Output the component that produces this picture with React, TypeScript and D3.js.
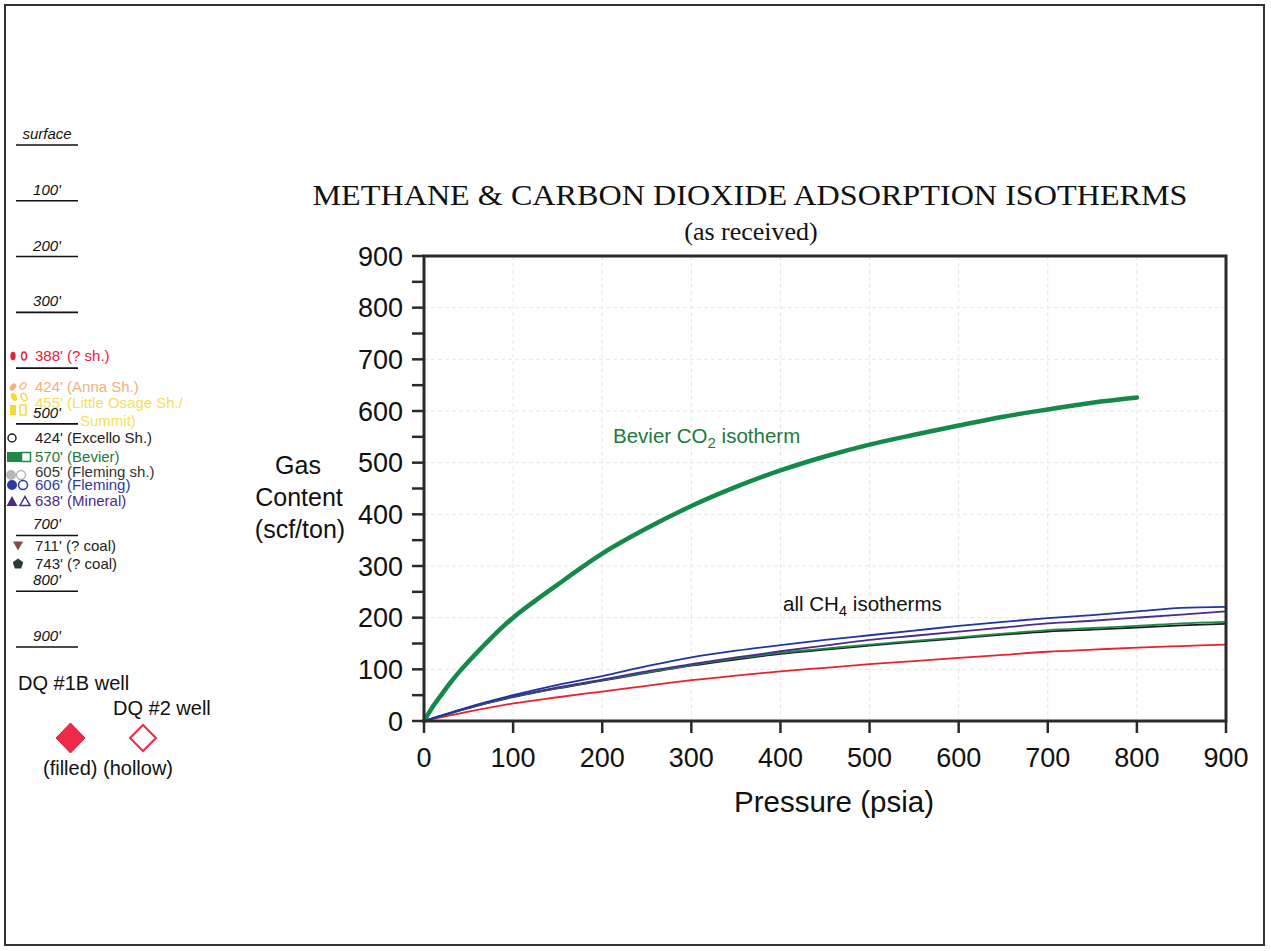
import React from "react";
import * as d3 from "d3";

// ---------- data ----------
const co2Pressure = [0, 10, 20, 30, 40, 50, 75, 100, 125, 150, 175, 200, 250, 300, 350, 400, 450, 500, 550, 600, 650, 700, 750, 800];
const bevierCO2 = [0, 28, 52, 75, 96, 115, 160, 200, 233, 264, 295, 324, 373, 416, 453, 485, 512, 535, 554, 572, 589, 603, 616, 626];

const ch4Pressure = [0, 50, 100, 150, 200, 250, 300, 350, 400, 450, 500, 550, 600, 650, 700, 750, 800, 850, 900];
const flemingCH4 = [0, 27, 50, 70, 87, 106, 123, 136, 147, 157, 166, 175, 184, 192, 199, 205, 212, 219, 221];
const mineralCH4 = [0, 26, 48, 65, 80, 96, 110, 123, 135, 146, 157, 165, 173, 181, 189, 194, 200, 206, 212];
const bevierCH4 = [0, 25, 47, 64, 79, 94, 108, 121, 132, 140, 148, 155, 162, 169, 176, 180, 184, 189, 192];
const excelloCH4 = [0, 25, 46, 63, 78, 93, 107, 119, 130, 138, 146, 153, 160, 167, 173, 177, 181, 185, 188];
const shale388CH4 = [0, 18, 34, 46, 57, 68, 79, 88, 96, 103, 110, 116, 122, 128, 134, 138, 142, 145, 148];

const xTicks = [0, 100, 200, 300, 400, 500, 600, 700, 800, 900];
const yTicks = [0, 100, 200, 300, 400, 500, 600, 700, 800, 900];
const yMinorTicks = [50, 150, 250, 350, 450, 550, 650, 750, 850];

const depthValues = [0, 100, 200, 300, 400, 500, 700, 800, 900];
const depthLabels = ["surface", "100'", "200'", "300'", "", "500'", "700'", "800'", "900'"];

const legendLabels = [
  "388' (? sh.)",
  "424' (Anna Sh.)",
  "455' (Little Osage Sh./",
  "424' (Excello Sh.)",
  "570' (Bevier)",
  "605' (Fleming sh.)",
  "606' (Fleming)",
  "638' (Mineral)",
  "711' (? coal)",
  "743' (? coal)",
];

const SANS = "'Liberation Sans', Arial, Helvetica, sans-serif";
const SERIF = "'Liberation Serif', 'Times New Roman', serif";

export default function App() {
  const x = d3.scaleLinear().domain([0, 900]).range([424, 1226]);
  const y = d3.scaleLinear().domain([0, 900]).range([721, 256]);
  const depth = d3.scaleLinear().domain([0, 900]).range([145, 647]);

  const line = d3
    .line<[number, number]>()
    .x((d) => x(d[0]))
    .y((d) => y(d[1]))
    .curve(d3.curveMonotoneX);

  const zip = (px: number[], vy: number[]) => px.map((p, i) => [p, vy[i]] as [number, number]);

  const ch4Series = [
    { v: shale388CH4, c: "#e8222e" },
    { v: excelloCH4, c: "#1c1c1c" },
    { v: bevierCH4, c: "#1e8a46" },
    { v: mineralCH4, c: "#4a2c8c" },
    { v: flemingCH4, c: "#2134a4" },
  ];

  // layout for left legend rows (y centres)
  const rowY = [356, 387, 403, 438, 457, 472, 485, 501, 546, 564];
  const rowColor = ["#e8203c", "#f5b07e", "#f5e05a", "#222", "#1b7a3a", "#333", "#2b3aa0", "#4a2a8a", "#222", "#222"];

  const tri = (cx: number, cy: number, s: number, down = false) => {
    const h = s * 0.9;
    return down
      ? `M${cx - s / 2},${cy - h / 2}L${cx + s / 2},${cy - h / 2}L${cx},${cy + h / 2}Z`
      : `M${cx - s / 2},${cy + h / 2}L${cx + s / 2},${cy + h / 2}L${cx},${cy - h / 2}Z`;
  };
  const pent = (cx: number, cy: number, r: number) =>
    d3.range(5).map((i) => {
      const a = -Math.PI / 2 + (i * 2 * Math.PI) / 5;
      return `${cx + r * Math.cos(a)},${cy + r * Math.sin(a)}`;
    }).join(" ");

  return (
    <svg
      width={1271}
      height={951}
      style={{ position: "absolute", left: 0, top: 0, background: "#fff" }}
    >
      <rect x={0} y={0} width={1271} height={951} fill="#fff" />
      {/* page frame */}
      <rect x={5} y={5} width={1259} height={940} fill="none" stroke="#333" strokeWidth={2} />

      {/* ---------- left depth panel ---------- */}
      {depthValues.map((d, i) => (
        <g key={"dep" + i}>
          <line x1={16} x2={78} y1={depth(d)} y2={depth(d)} stroke="#111" strokeWidth={1.6} />
          {depthLabels[i] && (
            <text x={47} y={depth(d) - 6} textAnchor="middle" fontFamily={SANS} fontStyle="italic" fontSize={15} fill="#111">
              {depthLabels[i]}
            </text>
          )}
        </g>
      ))}

      {legendLabels.map((t, i) => (
        <text key={"lg" + i} x={35} y={rowY[i]} dy="0.35em" fontFamily={SANS} fontSize={15} fill={rowColor[i]}>
          {t}
        </text>
      ))}
      <text x={80} y={421} dy="0.35em" fontFamily={SANS} fontSize={15} fill="#f5e05a">Summit)</text>

      {/* legend symbols */}
      <ellipse cx={13} cy={356} rx={2.6} ry={4.2} fill="#e8203c" />
      <ellipse cx={24} cy={356} rx={2.4} ry={4} fill="none" stroke="#e8203c" strokeWidth={1.5} />
      <ellipse cx={13} cy={387} rx={2.6} ry={4} fill="#f5b07e" transform="rotate(40 13 387)" />
      <ellipse cx={23} cy={386} rx={2.4} ry={3.8} fill="none" stroke="#f5b07e" strokeWidth={1.2} transform="rotate(40 23 386)" />
      <ellipse cx={14} cy={397} rx={2.8} ry={4.2} fill="#f5d832" transform="rotate(-30 14 397)" />
      <ellipse cx={24} cy={397} rx={2.6} ry={4} fill="none" stroke="#f5d832" strokeWidth={1.3} transform="rotate(-30 24 397)" />
      <rect x={10} y={405} width={6} height={10} fill="#f5d832" />
      <rect x={20} y={405} width={6} height={10} fill="none" stroke="#f5d832" strokeWidth={1.3} />
      <circle cx={12} cy={438} r={4} fill="none" stroke="#222" strokeWidth={1.5} />
      <rect x={7} y={452} width={14} height={10} fill="#1e8a46" />
      <rect x={21.5} y={452.5} width={9} height={9} fill="none" stroke="#1e8a46" strokeWidth={1.5} />
      <circle cx={11} cy={475} r={5} fill="#9a9a9a" opacity={0.7} />
      <circle cx={21} cy={475} r={4.5} fill="none" stroke="#9a9a9a" strokeWidth={1.5} opacity={0.7} />
      <circle cx={12} cy={485} r={5} fill="#2b3aa0" />
      <circle cx={23} cy={485} r={4.5} fill="none" stroke="#2b3aa0" strokeWidth={1.5} />
      <path d={tri(12, 501, 11)} fill="#4a2a8a" />
      <path d={tri(25, 501, 10)} fill="none" stroke="#4a2a8a" strokeWidth={1.5} />
      <path d={tri(18, 546, 10, true)} fill="#7a5045" />
      <polygon points={pent(18, 564, 5.5)} fill="#2f3a36" />

      {/* well legend */}
      <text x={18} y={690} fontFamily={SANS} fontSize={20} fill="#111">DQ #1B well</text>
      <text x={113} y={715} fontFamily={SANS} fontSize={20} fill="#111">DQ #2 well</text>
      <path d="M70.5,723 L85,738 L70.5,753 L56,738 Z" fill="#ef2a48" stroke="#d01e3a" strokeWidth={1} />
      <path d="M143,725 L156,738 L143,751 L130,738 Z" fill="#fff" stroke="#ef2a48" strokeWidth={2} />
      <text x={43} y={775} fontFamily={SANS} fontSize={20} fill="#111">(filled) (hollow)</text>

      {/* ---------- chart ---------- */}
      <text x={750} y={205} textAnchor="middle" fontFamily={SERIF} fontSize={29} fill="#111" textLength={875} lengthAdjust="spacingAndGlyphs">
        METHANE &amp; CARBON DIOXIDE ADSORPTION ISOTHERMS
      </text>
      <text x={751} y={240} textAnchor="middle" fontFamily={SERIF} fontSize={26} fill="#111">
        (as received)
      </text>

      {/* grid */}
      {xTicks.slice(1, -1).map((t) => (
        <line key={"gx" + t} x1={x(t)} x2={x(t)} y1={y(900)} y2={y(0)} stroke="#e6e6e6" strokeWidth={1} strokeDasharray="4,3" />
      ))}
      {yTicks.slice(1, -1).map((t) => (
        <line key={"gy" + t} x1={x(0)} x2={x(900)} y1={y(t)} y2={y(t)} stroke="#e6e6e6" strokeWidth={1} strokeDasharray="4,3" />
      ))}

      {/* CH4 curves */}
      {ch4Series.map((s, i) => (
        <path key={"ch4" + i} d={line(zip(ch4Pressure, s.v)) || ""} fill="none" stroke={s.c} strokeWidth={1.8} />
      ))}
      {/* CO2 curve */}
      <path d={line(zip(co2Pressure, bevierCO2)) || ""} fill="none" stroke="#15894a" strokeWidth={4.5} strokeLinecap="round" />

      {/* frame */}
      <rect x={x(0)} y={y(900)} width={x(900) - x(0)} height={y(0) - y(900)} fill="none" stroke="#2a2a2a" strokeWidth={3} />

      {/* y ticks */}
      {yTicks.map((t) => (
        <g key={"yt" + t}>
          <line x1={x(0) - 12} x2={x(0)} y1={y(t)} y2={y(t)} stroke="#2a2a2a" strokeWidth={2.5} />
          <text x={403} y={y(t)} dy="0.36em" textAnchor="end" fontFamily={SANS} fontSize={27} fill="#111">{t}</text>
        </g>
      ))}
      {yMinorTicks.map((t) => (
        <line key={"ym" + t} x1={x(0) - 12} x2={x(0)} y1={y(t)} y2={y(t)} stroke="#2a2a2a" strokeWidth={2.5} />
      ))}

      {/* x ticks */}
      {xTicks.map((t) => (
        <g key={"xt" + t}>
          <line x1={x(t)} x2={x(t)} y1={y(0)} y2={y(0) + 12} stroke="#2a2a2a" strokeWidth={2.5} />
          <text x={x(t)} y={767} textAnchor="middle" fontFamily={SANS} fontSize={27} fill="#111">{t}</text>
        </g>
      ))}

      {/* axis titles */}
      <text x={834} y={812} textAnchor="middle" fontFamily={SANS} fontSize={29.5} fill="#111">Pressure (psia)</text>
      <g fontFamily={SANS} fontSize={25} fill="#111" textAnchor="middle">
        <text x={298} y={474}>Gas</text>
        <text x={299} y={506}>Content</text>
        <text x={300} y={538}>(scf/ton)</text>
      </g>

      {/* annotations */}
      <text x={613} y={443} fontFamily={SANS} fontSize={20.5} fill="#1b7a3a">
        Bevier CO<tspan fontSize={15} dy={5}>2</tspan><tspan dy={-5}> isotherm</tspan>
      </text>
      <text x={783} y={611} fontFamily={SANS} fontSize={20.5} fill="#111">
        all CH<tspan fontSize={15} dy={5}>4</tspan><tspan dy={-5}> isotherms</tspan>
      </text>
    </svg>
  );
}
